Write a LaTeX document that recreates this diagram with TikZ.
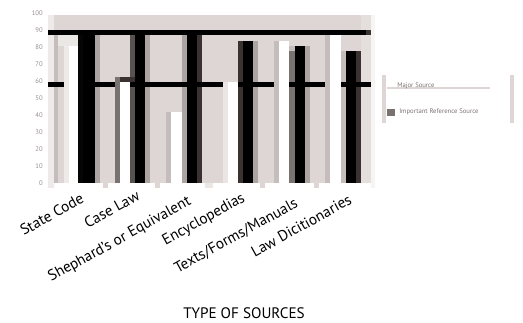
\documentclass[tikz,border=0pt]{standalone}
\usepackage{fontspec}
\setmainfont{PT Sans}
\usepackage{tikz}
\usetikzlibrary{positioning}
\definecolor{cbg}{RGB}{221,214,212}
\definecolor{clite}{RGB}{238,234,233}
\definecolor{cmid}{RGB}{197,189,187}
\definecolor{cgray}{RGB}{172,164,162}
\definecolor{cdim}{RGB}{122,114,112}
\definecolor{cdark}{RGB}{58,50,48}
\definecolor{ctick}{RGB}{150,142,140}
\newcommand{\catfont}{\fontsize{11.4}{13}\selectfont}

\begin{document}
\begin{tikzpicture}[x=0.75pt,y=-0.75pt,
    catlbl/.style={font=\catfont, rotate=29, anchor=base east, inner sep=0pt},
    ylbl/.style={font=\fontsize{5}{6}\selectfont, text=ctick, anchor=east, inner sep=0pt},
    leglbl/.style={font=\fontsize{5}{6}\selectfont, text=cdim, anchor=west, inner sep=0pt}]
  \useasboundingbox (0,0) rectangle (523,323);
  % plot area
  \fill[cbg] (48,15) rectangle (371,183);
  \fill[clite] (48,15) rectangle (54,188);
  \fill[cmid] (54,35) rectangle (58,183);
  \fill[clite!50!white] (371,15) rectangle (375,188);
  \fill[cbg!60!white] (58,35) rectangle (78,46);
  \fill[cbg!80!white] (361,15) rectangle (371,183);
  % ticks below the plot
  \fill[cbg] (103,183) rectangle (108,188);
  \fill[cbg] (155,183) rectangle (160,188);
  \fill[cbg!60!white] (205,183) rectangle (213,188);
  \fill[cbg] (260,183) rectangle (265,188);
  \fill[cbg] (314,183) rectangle (319,188);
  % side shades of the black bars
  \fill[cgray] (95,35) rectangle (100,183);
  \fill[cdark!85!white] (130,35) rectangle (135,183);
  \fill[cgray] (145,35) rectangle (150,183);
  \fill[cgray] (182,35) rectangle (187,183);
  \fill[cdark] (197,35) rectangle (202,183);
  \fill[cdark] (238,41) rectangle (243,183);
  \fill[cgray] (253,41) rectangle (258,183);
  \fill[cmid] (289,46) rectangle (295,51);
  \fill[cdim] (289,51) rectangle (295,183);
  \fill[cgray] (305,46) rectangle (310,183);
  \fill[cmid] (341,51) rectangle (346,183);
  \fill[cdark] (356,51) rectangle (361,183);
  % mean line
  \fill[black] (48,82) rectangle (371,87);
  % white bars
  \fill[clite] (64,46) rectangle (69,183);
  \fill[white] (69,46) rectangle (78,183);
  \fill[cdim] (115,77) rectangle (120,183);
  \fill[white] (120,82) rectangle (130,183);
  \fill[cdark] (120,77) rectangle (135,82);
  \fill[cmid] (166,112) rectangle (171,183);
  \fill[white] (171,112) rectangle (182,183);
  \fill[clite!80!cbg] (223,82) rectangle (228,183);
  \fill[white] (228,82) rectangle (238,183);
  \fill[cmid] (274,41) rectangle (279,183);
  \fill[white] (279,41) rectangle (289,183);
  \fill[cmid] (325,35) rectangle (330,183);
  \fill[white] (330,35) rectangle (341,183);
  % black bars
  \fill[black!90!cdark] (78,32) rectangle (83,183);
  \fill[black] (83,32) rectangle (95,183);
  \fill[black] (135,32) rectangle (145,183);
  \fill[black] (187,32) rectangle (197,183);
  \fill[black] (243,41) rectangle (253,183);
  \fill[black] (295,46) rectangle (305,183);
  \fill[black] (346,51) rectangle (356,183);
  % top line
  \fill[black] (48,30) rectangle (366,35);
  \fill[cdark] (366,30) rectangle (371,35);
  % y axis
  \foreach \v in {0,10,...,100}
    \node[ylbl] (ytick\v) at (43,{183-1.7*\v}) {\v};
  % legend
  \fill[cbg] (382,75) rectangle (386,123);
  \fill[cbg] (510,75) rectangle (514,123);
  \fill[cbg] (387,87) rectangle (490,89);
  \node[leglbl] (legmajor) at (397,86) {Major Source};
  \fill[cdim] (387,109) rectangle (395,116);
  \node[leglbl] (legother) at (399,112) {Important Reference Source};
  % categories
  \node[catlbl] (catstate) at (85,202) {State Code};
  \node[catlbl] (catcase) at (141,199) {Case Law};
  \node[catlbl] (catshep) at (192,204) {Shephard's or Equivalent};
  \node[catlbl] (catency) at (246,201) {Encyclopedias};
  \node[catlbl] (cattext) at (299,206) {Texts/Forms/Manuals};
  \node[catlbl] (catdict) at (353,203) {Law Dicitionaries};
  \node[font=\catfont] (srclbl) at (244,313) {TYPE OF SOURCES};
\end{tikzpicture}
\end{document}
